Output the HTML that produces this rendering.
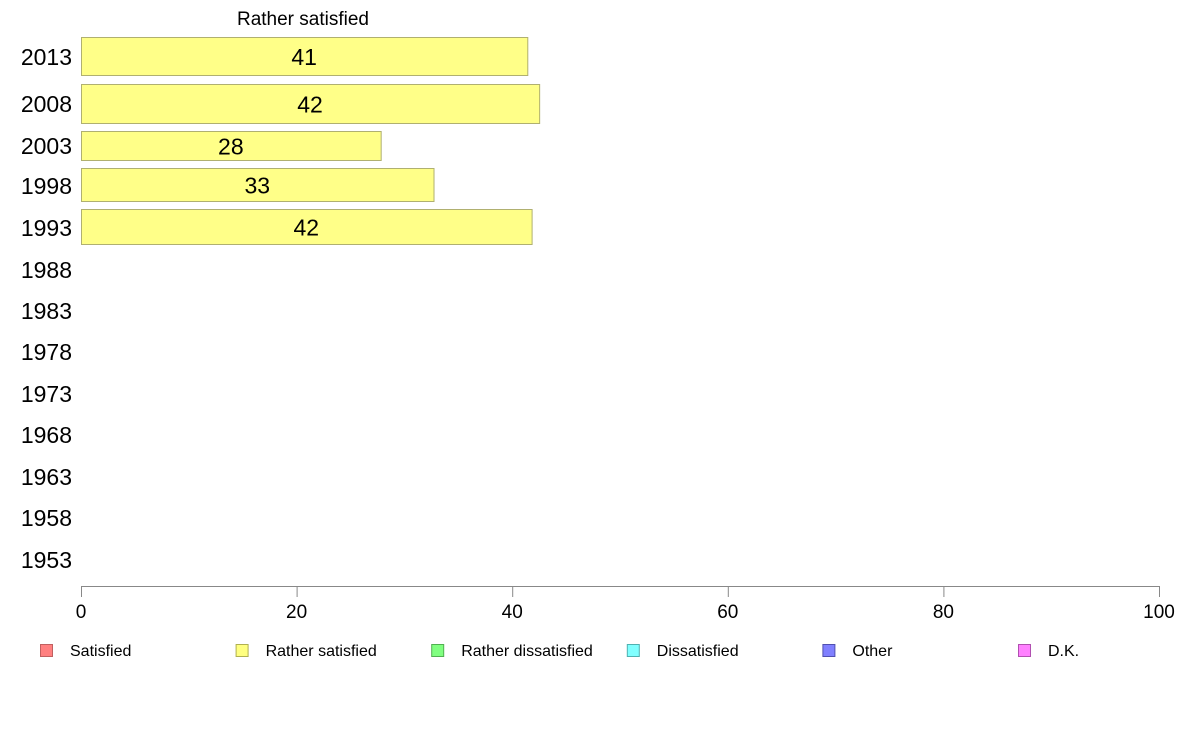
<!DOCTYPE html>
<html><head><meta charset="utf-8"><style>
body{margin:0;background:#fff;font-family:"Liberation Sans",sans-serif}
svg text{font-family:"Liberation Sans",sans-serif}
</style></head><body>
<svg id="c" width="1188" height="736"></svg>
<script>
const years=["2013","2008","2003","1998","1993","1988","1983","1978","1973","1968","1963","1958","1953"];
const values=[41.4,42.5,27.8,32.7,41.8];
const labels=["41","42","28","33","42"];
const ticks=[0,20,40,60,80,100];
const legendItems=["Satisfied","Rather satisfied","Rather dissatisfied","Dissatisfied","Other","D.K."];
const legendColors=["#ff8080","#ffff80","#80ff80","#80ffff","#8080ff","#ff80ff"];
const legendBorders=["#c06060","#b0b050","#50b050","#50b0b0","#5050b0","#b050b0"];
// layout
const rowY=[57,104,146,186,228,270,311,352,394,435,477,518,560];
const barTop=[37,84,131,168,209];
const barBot=[75,123,160,201,244];
const NS="http://www.w3.org/2000/svg";
const svg=document.getElementById('c');
const x=v=>81+v*10.78;
function mk(t,a,txt){const e=document.createElementNS(NS,t);for(const k in a)e.setAttribute(k,a[k]);if(txt!=null)e.textContent=txt;svg.appendChild(e);return e;}
let t=mk('text',{x:303,y:25,'text-anchor':'middle','font-size':19,fill:'#000'},"Rather satisfied");


years.forEach((y,i)=>{
 const e=mk('text',{x:72,y:rowY[i]+8,'text-anchor':'end','font-size':23,fill:'#000'},y);
 
 
});
values.forEach((v,i)=>{
 const r=mk('rect',{x:81.5,y:barTop[i]+0.5,width:x(v)-81,height:barBot[i]-barTop[i],fill:'#ffff88',stroke:'#b0b070','stroke-width':1});
 
 
 const l=mk('text',{x:(81+x(v))/2,y:(barTop[i]+barBot[i])/2+9,'text-anchor':'middle','font-size':23,fill:'#000'},labels[i]);
 
 
});
const ax=mk('line',{x1:x(0),x2:x(100),y1:586.5,y2:586.5,stroke:'#888','stroke-width':1});


ticks.forEach(v=>{
 const tk=mk('line',{x1:x(v)+0.5,x2:x(v)+0.5,y1:586,y2:597,stroke:'#888','stroke-width':1});
 
 
 const tl=mk('text',{x:x(v),y:618,'text-anchor':'middle','font-size':19,fill:'#000'},String(v));
 
 
});
legendItems.forEach((n,i)=>{
 const lx=40+i*195.6;
 const s=mk('rect',{x:lx+0.5,y:644.5,width:12,height:12,fill:legendColors[i],stroke:legendBorders[i],'stroke-width':1});
 
 
 const lt=mk('text',{x:lx+30,y:656,'font-size':16,fill:'#000'},n);
 
 
});
</script>
</body></html>
